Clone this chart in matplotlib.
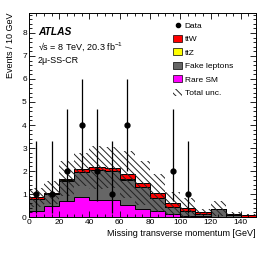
import matplotlib
matplotlib.use("Agg")
import matplotlib.pyplot as plt
import numpy as np
from matplotlib.patches import Patch
from matplotlib.lines import Line2D
from matplotlib.ticker import MultipleLocator

plt.rcParams['font.family'] = ['Liberation Sans', 'DejaVu Sans']
plt.rcParams['mathtext.fontset'] = 'custom'
plt.rcParams['mathtext.rm'] = 'Liberation Sans'
plt.rcParams['mathtext.it'] = 'Liberation Sans:italic'
plt.rcParams['hatch.linewidth'] = 0.7

edges = np.arange(0, 160, 10)
rare = [0.27, 0.48, 0.70, 0.87, 0.75, 0.75, 0.53, 0.34, 0.28, 0.12, 0.05, 0.03, 0.02, 0.01, 0.01]
fake = [0.52, 0.50, 0.88, 1.08, 1.28, 1.25, 1.08, 0.95, 0.54, 0.31, 0.21, 0.09, 0.32, 0.09, 0.00]
ttz = [0.01, 0.01, 0.02, 0.02, 0.02, 0.02, 0.03, 0.02, 0.02, 0.01, 0.01, 0.01, 0.01, 0.01, 0.01]
ttw = [0.05, 0.06, 0.07, 0.10, 0.11, 0.13, 0.21, 0.17, 0.20, 0.16, 0.11, 0.10, 0.02, 0.03, 0.07]
unc = [0.40, 0.50, 0.76, 0.73, 0.94, 0.90, 1.03, 0.95, 0.81, 0.51, 0.45, 0.12, 0.31, 0.06, 0.03]

data_x = [5, 15, 25, 35, 45, 55, 65, 95, 105]
data_y = [1, 1, 2, 4, 2, 1, 4, 2, 1]
data_up = [2.3, 2.3, 2.7, 2.0, 2.7, 2.3, 2.0, 2.7, 2.3]
data_dn = [0.83, 0.83, 1.3, 2.0, 1.3, 0.83, 2.0, 1.3, 0.83]

fig = plt.figure(figsize=(2.70, 2.59), dpi=100)
ax = fig.add_axes([0.107, 0.162, 0.841, 0.788])

comps = [(rare, '#ff00ff'), (fake, '#666666'), (ttz, '#ffff00'), (ttw, '#ff0000')]
base = np.zeros(len(rare))
for vals, col in comps:
    v = np.array(vals)
    ax.stairs(base + v, edges, baseline=base, fill=True, color=col, lw=0)
    base = base + v
base = np.zeros(len(rare))
for vals, col in comps:
    base = base + np.array(vals)
    ax.stairs(base, edges, baseline=None, fill=False, color='black', lw=0.7)

tot = base
u = np.array(unc)
ax.stairs(tot + u, edges, baseline=tot - u, fill=True, facecolor='none',
          edgecolor='#222222', hatch='\\\\\\\\\\', lw=0)

ax.errorbar(data_x, data_y, yerr=[data_dn, data_up], fmt='o', color='black',
            ms=3.5, lw=0.9, capsize=0)

ax.set_xlim(0, 150)
ax.set_ylim(0, 8.87)
ax.xaxis.set_major_locator(MultipleLocator(20))
ax.xaxis.set_minor_locator(MultipleLocator(5))
ax.yaxis.set_major_locator(MultipleLocator(1))
ax.yaxis.set_minor_locator(MultipleLocator(0.2))
ax.tick_params(which='both', direction='in', top=True, right=True, labelsize=6, pad=1.5, width=0.6)
ax.tick_params(which='major', length=4)
ax.tick_params(which='minor', length=2)
for s in ax.spines.values():
    s.set_linewidth(0.7)

ax.set_xlabel('Missing transverse momentum [GeV]', fontsize=6.5, loc='right', labelpad=2)
ax.set_ylabel('Events / 10 GeV', fontsize=6.5, loc='top', labelpad=5)

ax.text(0.04, 0.905, 'ATLAS', transform=ax.transAxes, fontsize=7.4,
        fontweight='bold', fontstyle='italic', va='center')
ax.text(0.04, 0.835, '\u221as = 8 TeV, 20.3 fb$^{-1}$', transform=ax.transAxes,
        fontsize=6.5, va='center')
ax.text(0.04, 0.765, '2\u03bc-SS-CR', transform=ax.transAxes, fontsize=6.5, va='center')

handles = [
    Line2D([], [], marker='o', color='black', ls='none', ms=3),
    Patch(facecolor='#ff0000', edgecolor='black', lw=0.5),
    Patch(facecolor='#ffff00', edgecolor='black', lw=0.5),
    Patch(facecolor='#666666', edgecolor='black', lw=0.5),
    Patch(facecolor='#ff00ff', edgecolor='black', lw=0.5),
    Patch(facecolor='none', edgecolor='#222222', hatch='\\\\\\\\\\', lw=0),
]
labels = ['Data', 'ttW', 'ttZ', 'Fake leptons', 'Rare SM', 'Total unc.']
ax.legend(handles, labels, loc='upper left', bbox_to_anchor=(0.62, 0.975), frameon=False,
          fontsize=6, handlelength=1.1, handleheight=0.9, handletextpad=0.3,
          labelspacing=0.62, borderaxespad=0)

fig.savefig('out.png', dpi=100)
